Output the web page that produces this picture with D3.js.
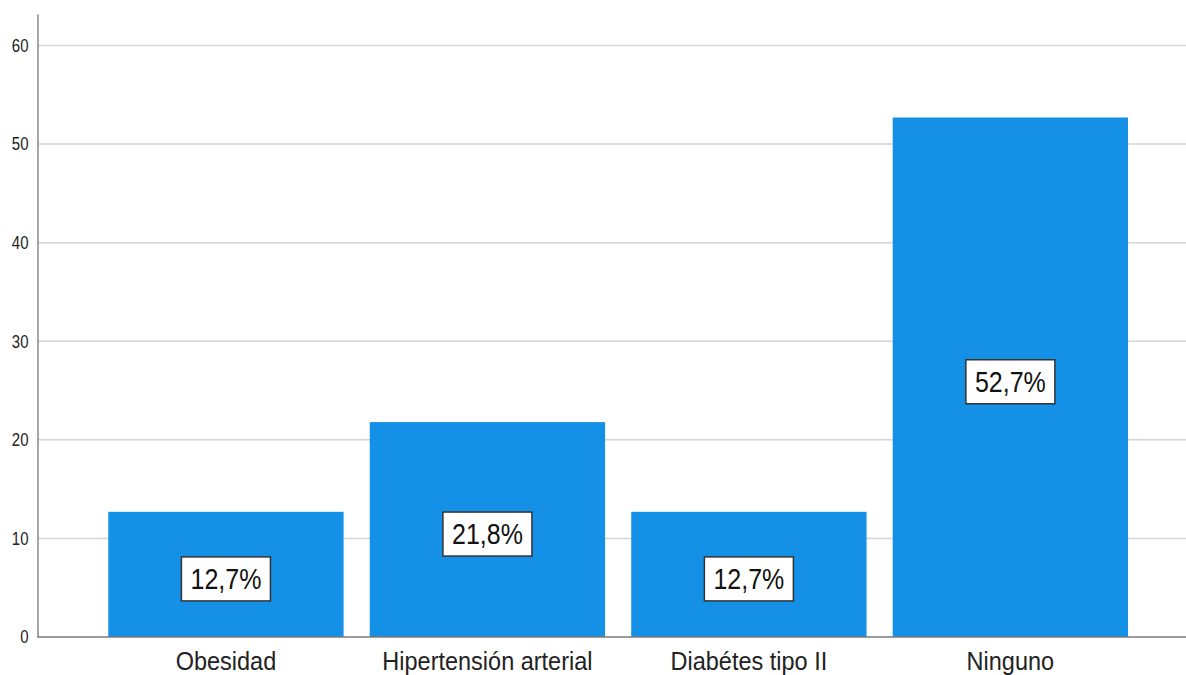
<!DOCTYPE html>
<html>
<head>
<meta charset="utf-8">
<script src="https://cdn.jsdelivr.net/npm/d3@7"></script>
<style>
  html, body { margin: 0; padding: 0; background: #fff; }
  svg { display: block; font-family: "Liberation Sans", Arial, sans-serif; }
  .tall { transform-box: fill-box; transform-origin: center; }
</style>
</head>
<body>
<svg id="chart" width="1186" height="675"></svg>
<script>
// Comorbidity categories and their percentages
const categories = ["Obesidad", "Hipertensión arterial", "Diabétes tipo II", "Ninguno"];
const percentages = [12.7, 21.8, 12.7, 52.7];
const yTicks = [0, 10, 20, 30, 40, 50, 60];

const svg = d3.select("#chart");
const W = 1186;

const axisX = 37.5;
const y = d3.scaleLinear().domain([0, 63.2]).range([637, 14]);
const x = d3.scaleBand()
  .domain(categories)
  .range([95.2, 1141.1])
  .paddingInner(0.1)
  .paddingOuter(0.05);

// Horizontal gridlines
svg.append("g")
  .selectAll("line")
  .data(yTicks.filter(d => d > 0))
  .join("line")
  .attr("x1", axisX)
  .attr("x2", W)
  .attr("y1", d => y(d))
  .attr("y2", d => y(d))
  .attr("stroke", "#d4d4d4")
  .attr("stroke-width", 1.5);

// Bars
svg.append("g")
  .selectAll("rect")
  .data(categories)
  .join("rect")
  .attr("x", d => x(d))
  .attr("width", x.bandwidth())
  .attr("y", (d, i) => y(percentages[i]))
  .attr("height", (d, i) => y(0) - y(percentages[i]))
  .attr("fill", "#1490e6");

// Y axis
const yAxis = d3.axisLeft(y).tickValues(yTicks).tickSize(0).tickPadding(9);
const gy = svg.append("g").attr("transform", `translate(${axisX},0)`).call(yAxis);
gy.select(".domain").attr("stroke", "#8a8a8a").attr("stroke-width", 1.5);
gy.selectAll("text")
  .attr("fill", "#222")
  .attr("class", "tall")
  .style("transform", "scale(1,1.18)")
  .style("font-size", "15px");

// Baseline
svg.append("line")
  .attr("x1", axisX).attr("x2", W)
  .attr("y1", y(0)).attr("y2", y(0))
  .attr("stroke", "#7a7a7a").attr("stroke-width", 1.5);

// Category labels
const xAxis = d3.axisBottom(x).tickSize(0).tickPadding(16);
const gx = svg.append("g").attr("transform", `translate(0,${y(0)})`).call(xAxis);
gx.select(".domain").remove();
gx.selectAll("text")
  .attr("fill", "#222")
  .attr("class", "tall")
  .style("transform", "scale(1,1.1)")
  .style("font-size", "23.5px");

// Value labels in boxes
const lbl = svg.append("g")
  .selectAll("g")
  .data(categories)
  .join("g")
  .attr("transform", (d, i) => {
    const cx = x(d) + x.bandwidth() / 2;
    const cy = (y(percentages[i]) + y(0)) / 2 + 4.5;
    return `translate(${cx},${cy})`;
  });

lbl.append("rect")
  .attr("x", -44.5).attr("y", -22)
  .attr("width", 89).attr("height", 44)
  .attr("fill", "#fff")
  .attr("stroke", "#333")
  .attr("stroke-width", 1.5);

lbl.append("text")
  .attr("text-anchor", "middle")
  .attr("dy", "0.36em")
  .attr("fill", "#111")
  .attr("class", "tall")
  .style("transform", "scale(1,1.15)")
  .style("font-size", "25px")
  .text((d, i) => d3.format(".1f")(percentages[i]).replace(".", ",") + "%");
</script>
</body>
</html>
